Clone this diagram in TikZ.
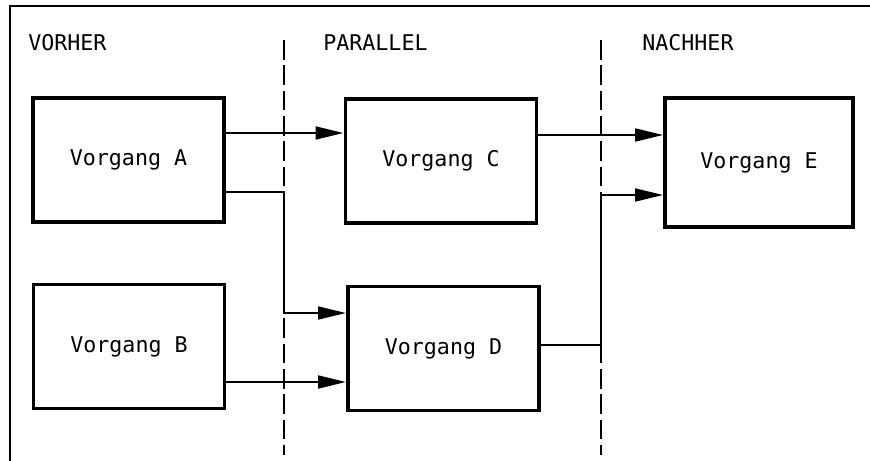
\documentclass[tikz,border=0pt]{standalone}
\usepackage{fontspec}
\setmonofont{DejaVu Sans Mono}
\usetikzlibrary{arrows.meta}
\newcommand\schrift{\ttfamily\fontsize{15.4}{18}\selectfont}
\begin{document}
\begin{tikzpicture}[x=0.025cm,y=-0.025cm,>={Triangle[length=20pt,width=9pt]},
  vorgang/.style={draw,line width=2.4pt,minimum width=4.78cm,minimum height=3.1cm,font=\schrift},
  phase/.style={font=\schrift,anchor=west,inner sep=0pt},
  pfeil/.style={->,line width=2pt},
  trenn/.style={line width=1.8pt,dash pattern=on 14pt off 4pt}]
 \useasboundingbox (0,0) rectangle (870,461);
 % Rahmen
 \draw[line width=2pt] (870,6) -- (10,6) -- (10,461);
 % Phasen
 \node[phase] (vorher) at (28,43) {VORHER};
 \node[phase] (parallel) at (323,43) {PARALLEL};
 \node[phase] (nachher) at (642,43) {NACHHER};
 \foreach \x/\n in {284/1,601/2}{
   \coordinate (o\n) at (\x,40);
   \coordinate (u\n) at (\x,455);
   \draw[trenn] (o\n) -- (u\n);
 }
 % Vorgaenge
 \node[vorgang] (A) at (128.5,160) {Vorgang A};
 \node[vorgang] (B) at (129,346.5) {Vorgang B};
 \node[vorgang] (C) at (441,161) {Vorgang C};
 \node[vorgang] (D) at (443.5,348.5) {Vorgang D};
 \node[vorgang,minimum width=4.7cm,minimum height=3.22cm] (E) at (759,162.5) {Vorgang E};
 % Abhaengigkeiten
 \draw[pfeil] (A.east |- 0,133) -- (C.west |- 0,133);
 \draw[pfeil] (A.east |- 0,192) -- (o1 |- 0,192) |- (D.west |- 0,313);
 \draw[pfeil] (B.east |- 0,382) -- (D.west |- 0,382);
 \draw[pfeil] (C.east |- 0,135) -- (E.west |- 0,135);
 \draw[pfeil] (D.east |- 0,345) -- (o2 |- 0,345) |- (E.west |- 0,195);
\end{tikzpicture}
\end{document}
